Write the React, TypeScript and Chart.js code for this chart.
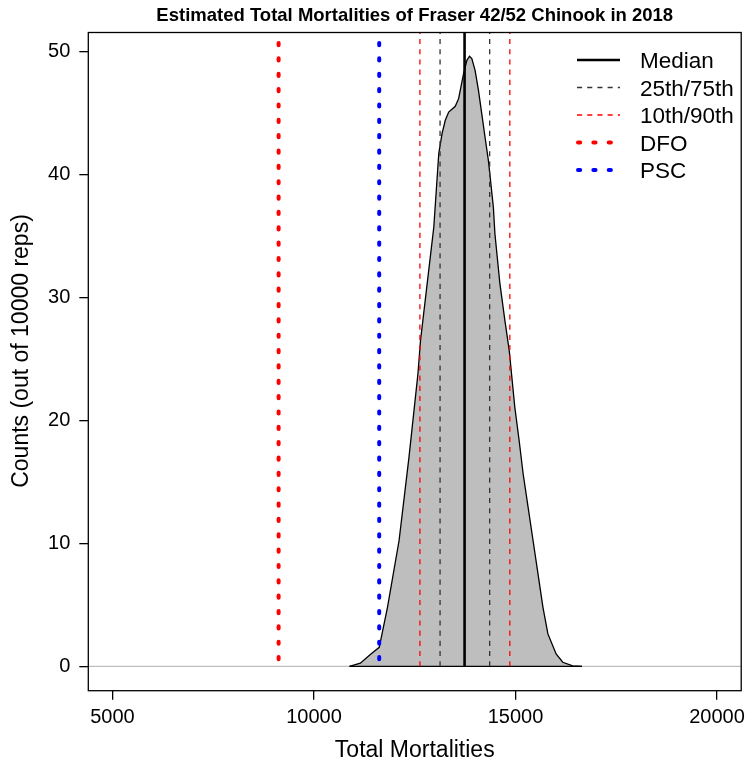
import { useEffect, useRef } from 'react';
import { Chart, registerables } from 'chart.js';

Chart.register(...registerables);

// ---------- data ----------
const TITLE = 'Estimated Total Mortalities of Fraser 42/52 Chinook in 2018';
const X_TITLE = 'Total Mortalities';
const Y_TITLE = 'Counts (out of 10000 reps)';

const densityX = [10880, 11150, 11412, 11619, 11823, 12111, 12357, 12579, 12643, 12808, 12973, 13096, 13177, 13258, 13342, 13505, 13588, 13711, 13793, 13859, 13916, 13997, 14081, 14162, 14243, 14327, 14450, 14489, 14613, 14736, 14844, 14901, 14982, 15090, 15189, 15312, 15435, 15558, 15681, 15804, 16008, 16173, 16420, 16650];
const densityY = [0, 0.25, 1.01, 1.55, 4.8, 10.24, 17.02, 23.81, 26.52, 31.14, 35.75, 41.73, 43.36, 44.44, 45.11, 45.58, 46.2, 48.24, 49.32, 49.65, 49.46, 48.51, 46.88, 44.98, 43.08, 41.18, 37.38, 35.2, 31.14, 28.15, 25.71, 23.81, 21.09, 18.38, 15.67, 12.95, 10.24, 7.52, 4.8, 2.64, 1.01, 0.33, 0.03, 0];

const medianValue = 13736;
const quartiles = [13128, 14359];
const deciles = [12628, 14859];
const dfoValue = 9122;
const pscValue = 11618;

const xTicks = [5000, 10000, 15000, 20000];
const yTicks = [0, 10, 20, 30, 40, 50];
const legendLabels = ['Median', '25th/75th', '10th/90th', 'DFO', 'PSC'];

const X_MIN = 4400;
const X_MAX = 20600;
const Y_MIN = -1.984;
const Y_MAX = 51.584;

// ---------- styles ----------
const FONT = '"Liberation Sans", Arial, Helvetica, sans-serif';
const DOT = [2.2, 13.15];
const DOT_W = 4;
const DASH = [5.1, 5.1];
const legendStyles = [
  { color: '#000000', width: 2.6, dash: [] as number[], cap: 'butt' },
  { color: '#333333', width: 1.3, dash: DASH, cap: 'butt' },
  { color: '#FF0000', width: 1.3, dash: DASH, cap: 'butt' },
  { color: '#FF0000', width: DOT_W, dash: DOT, cap: 'round' },
  { color: '#0000FF', width: DOT_W, dash: DOT, cap: 'round' },
];

function vline(x: number, color: string, width: number, dash: number[], cap: string, offset = 0) {
  return {
    data: [{ x, y: 0 }, { x, y: Y_MAX }],
    borderColor: color,
    borderWidth: width,
    borderDash: dash,
    borderDashOffset: offset,
    borderCapStyle: cap,
    pointRadius: 0,
    fill: false,
  };
}

const decor = {
  id: 'decor',
  afterDraw(chart: any) {
    const { ctx, chartArea: a } = chart;
    ctx.save();
    ctx.strokeStyle = '#000';
    ctx.lineWidth = 1.3;
    ctx.setLineDash([]);
    ctx.strokeRect(a.left, a.top, a.right - a.left, a.bottom - a.top);

    ctx.fillStyle = '#000';
    ctx.textAlign = 'center';
    ctx.textBaseline = 'middle';
    ctx.font = `bold 18.5px ${FONT}`;
    ctx.fillText(TITLE, (a.left + a.right) / 2, 16);
    ctx.font = `23px ${FONT}`;
    ctx.fillText(X_TITLE, (a.left + a.right) / 2, 751);
    ctx.save();
    ctx.translate(22, 351);
    ctx.rotate(-Math.PI / 2);
    ctx.fillText(Y_TITLE, 0, 0);
    ctx.restore();

    // legend
    const rows = [61, 88.5, 116, 143.5, 171];
    ctx.font = `22.5px ${FONT}`;
    ctx.textAlign = 'left';
    legendLabels.forEach((label, i) => {
      const st = legendStyles[i];
      const y = rows[i];
      ctx.beginPath();
      ctx.strokeStyle = st.color;
      ctx.lineWidth = st.width;
      ctx.lineCap = st.cap;
      ctx.setLineDash(st.dash);
      ctx.lineDashOffset = st.cap === 'round' ? -1 : 0;
      ctx.moveTo(577, y - 1);
      ctx.lineTo(620, y - 1);
      ctx.stroke();
      ctx.fillStyle = '#000';
      ctx.fillText(label, 640, y + 1);
    });
    ctx.restore();
  },
};

export default function App() {
  const ref = useRef<HTMLCanvasElement>(null);
  useEffect(() => {
    document.body.style.margin = '0';
    const density = densityX.map((x, i) => ({ x, y: densityY[i] }));
    const datasets: any[] = [
      {
        data: [{ x: X_MIN, y: 0 }, { x: X_MAX, y: 0 }],
        borderColor: '#BEBEBE',
        borderWidth: 1.3,
        pointRadius: 0,
        fill: false,
      },
      {
        data: density,
        borderColor: '#000000',
        borderWidth: 1.3,
        backgroundColor: '#BEBEBE',
        fill: 'origin',
        pointRadius: 0,
      },
      {
        data: [{ x: densityX[0], y: 0 }, { x: densityX[densityX.length - 1], y: 0 }],
        borderColor: '#000000',
        borderWidth: 1.3,
        pointRadius: 0,
        fill: false,
      },
      vline(deciles[0], '#FF0000', 1.3, DASH, 'butt'),
      vline(deciles[1], '#FF0000', 1.3, DASH, 'butt'),
      vline(quartiles[0], '#333333', 1.3, DASH, 'butt'),
      vline(quartiles[1], '#333333', 1.3, DASH, 'butt'),
      vline(medianValue, '#000000', 2.6, [], 'butt'),
      vline(dfoValue, '#FF0000', DOT_W, DOT, 'round', 8.25),
      vline(pscValue, '#0000FF', DOT_W, DOT, 'round', 8.25),
    ];
    const n = datasets.length;
    datasets.forEach((d, i) => { d.order = n - i; });

    const chart = new Chart(ref.current!, {
      type: 'line',
      data: { datasets },
      plugins: [decor],
      options: {
        animation: false,
        responsive: false,
        devicePixelRatio: 1,
        events: [],
        layout: { padding: { left: 0, right: 4.5, top: 32.5, bottom: 0 } },
        plugins: { legend: { display: false }, title: { display: false }, tooltip: { enabled: false } },
        scales: {
          x: {
            type: 'linear',
            min: X_MIN,
            max: X_MAX,
            afterBuildTicks: (s: any) => { s.ticks = xTicks.map((v) => ({ value: v })); },
            afterFit: (s: any) => { s.height = 74.3; },
            grid: { drawOnChartArea: false, drawTicks: true, tickLength: 9, color: '#000', lineWidth: 1.3 },
            border: { display: false },
            ticks: {
              color: '#000',
              font: { family: FONT, size: 20 },
              padding: 6,
              maxRotation: 0,
              autoSkip: false,
              callback: (v: any) => String(v),
            },
          },
          y: {
            type: 'linear',
            min: Y_MIN,
            max: Y_MAX,
            afterBuildTicks: (s: any) => { s.ticks = yTicks.map((v) => ({ value: v })); },
            afterFit: (s: any) => { s.width = 88.3; },
            grid: { drawOnChartArea: false, drawTicks: true, tickLength: 9, color: '#000', lineWidth: 1.3 },
            border: { display: false },
            ticks: {
              color: '#000',
              font: { family: FONT, size: 20 },
              padding: 9,
              autoSkip: false,
              callback: (v: any) => String(v),
            },
          },
        },
      } as any,
    });
    return () => chart.destroy();
  }, []);
  return <canvas ref={ref} width={751} height={765} style={{ display: 'block', width: 751, height: 765 }} />;
}
